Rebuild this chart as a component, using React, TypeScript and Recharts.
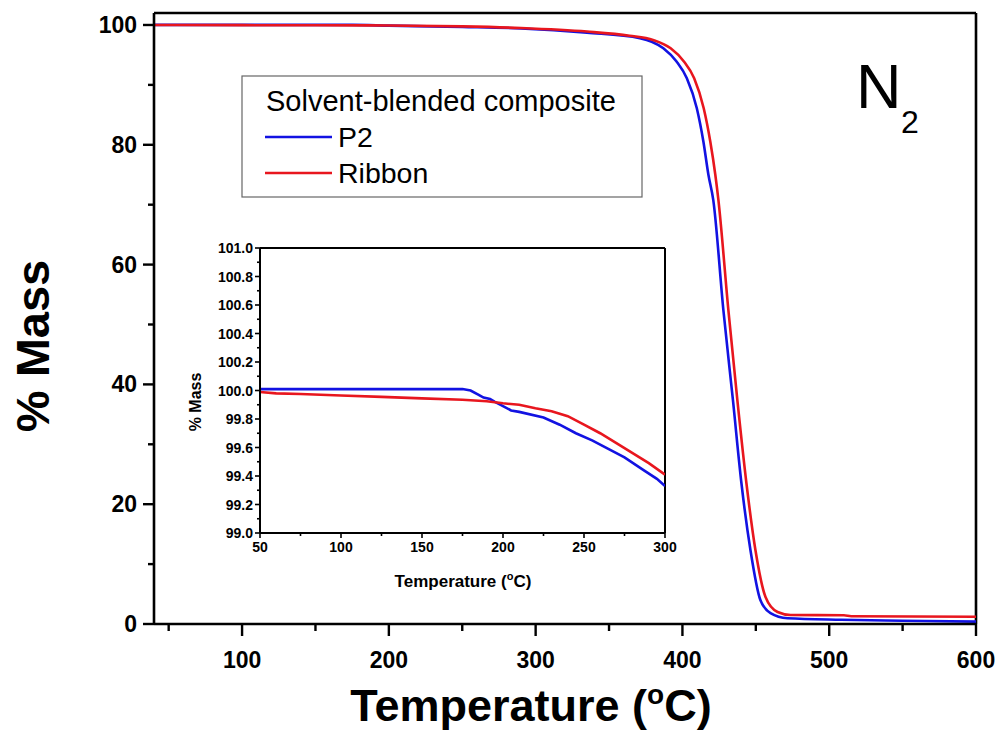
import { LineChart, Line, XAxis, YAxis, ReferenceLine } from "recharts";

const FONT = '"Liberation Sans", Arial, sans-serif';
const BLUE = "#1212e2";
const RED = "#e8161e";

// main TGA curves (temperature in °C, % mass)
const p2Temp = [40, 100, 150, 175, 200, 250, 290, 335, 371, 387, 396, 403, 409.8, 414.3, 417.7, 421, 427.9, 434.4, 440.2, 446.3, 453.1, 460, 471.6, 508, 550, 600];
const p2Mass = [100.01, 100.01, 100.01, 100.01, 99.89, 99.67, 99.42, 98.7, 97.8, 96.1, 93.9, 91.1, 86.1, 80.5, 75, 70.8, 52.4, 37.4, 23.5, 12.4, 4.0, 1.8, 0.95, 0.7, 0.55, 0.4];

const ribbonTemp = [40, 100, 150, 200, 250, 290, 335, 364, 380, 392, 401, 408, 414.5, 419, 422.4, 424.5, 431.3, 437.4, 443.6, 449.7, 456.6, 464.8, 473.7, 510, 515, 600];
const ribbonMass = [100, 99.97, 99.95, 99.91, 99.76, 99.49, 98.9, 98.2, 97.5, 96.1, 93.9, 91.1, 86.1, 80.5, 75, 70.8, 52.4, 37.4, 23.5, 12.4, 4.5, 2.0, 1.5, 1.45, 1.3, 1.2];

// inset (zoom of 50-300 °C)
const insetP2Temp = [50, 75, 100, 125, 150, 175, 180, 185, 188, 192, 195, 200, 205, 210, 225, 235, 245, 255, 265, 275, 287, 295, 300];
const insetP2Mass = [100.01, 100.01, 100.01, 100.01, 100.01, 100.01, 100.0, 99.97, 99.95, 99.94, 99.92, 99.89, 99.86, 99.85, 99.81, 99.76, 99.7, 99.65, 99.59, 99.53, 99.44, 99.38, 99.33];

const insetRibbonTemp = [50, 60, 75, 100, 125, 150, 175, 190, 200, 210, 220, 230, 240, 250, 260, 270, 280, 290, 300];
const insetRibbonMass = [99.99, 99.98, 99.975, 99.965, 99.955, 99.945, 99.935, 99.925, 99.91, 99.9, 99.875, 99.855, 99.82, 99.76, 99.7, 99.63, 99.56, 99.49, 99.41];

const mainXTicks = [50, 100, 150, 200, 250, 300, 350, 400, 450, 500, 550, 600];
const mainYTicks = [0, 10, 20, 30, 40, 50, 60, 70, 80, 90, 100];
const insetXTicks = [50, 75, 100, 125, 150, 175, 200, 225, 250, 275, 300];
const insetYTicks = [99.0, 99.1, 99.2, 99.3, 99.4, 99.5, 99.6, 99.7, 99.8, 99.9, 100.0, 100.1, 100.2, 100.3, 100.4, 100.5, 100.6, 100.7, 100.8, 100.9, 101.0];

const zip = (t: number[], m: number[]) => t.map((v, i) => ({ t: v, m: m[i] }));

const p2Data = zip(p2Temp, p2Mass);
const ribbonData = zip(ribbonTemp, ribbonMass);
const insetP2Data = zip(insetP2Temp, insetP2Mass);
const insetRibbonData = zip(insetRibbonTemp, insetRibbonMass);

type TickOpts = {
  isMajor: (v: number) => boolean;
  major: number;
  minor: number;
  offset: number;
  baseline: number;
  fontSize: number;
  strokeWidth: number;
  fmt: (v: number) => string;
};

const bottomTick = (o: TickOpts) => (p: any) => {
  const v = p.payload.value;
  const major = o.isMajor(v);
  return (
    <g>
      <line x1={p.x} y1={p.y} x2={p.x} y2={p.y + (major ? o.major : o.minor)} stroke="#000" strokeWidth={o.strokeWidth} />
      {major && (
        <text x={p.x} y={p.y + o.offset} textAnchor="middle" fontSize={o.fontSize} fontWeight="bold" fontFamily={FONT} fill="#000">
          {o.fmt(v)}
        </text>
      )}
    </g>
  );
};

const leftTick = (o: TickOpts) => (p: any) => {
  const v = p.payload.value;
  const major = o.isMajor(v);
  return (
    <g>
      <line x1={p.x} y1={p.y} x2={p.x - (major ? o.major : o.minor)} y2={p.y} stroke="#000" strokeWidth={o.strokeWidth} />
      {major && (
        <text x={p.x - o.offset} y={p.y + o.baseline} textAnchor="end" fontSize={o.fontSize} fontWeight="bold" fontFamily={FONT} fill="#000">
          {o.fmt(v)}
        </text>
      )}
    </g>
  );
};

function MainChart() {
  return (
    <LineChart width={1003} height={734} margin={{ top: 13, right: 27, bottom: 0, left: 0 }}>
      <XAxis
        dataKey="t"
        type="number"
        domain={[40, 600]}
        allowDataOverflow
        ticks={mainXTicks}
        interval={0}
        height={110}
        tickSize={0}
        tickMargin={0}
        tickLine={false}
        axisLine={{ stroke: "#000", strokeWidth: 2.6 }}
        tick={bottomTick({ isMajor: (v) => v % 100 === 0, major: 12, minor: 7, offset: 44, baseline: 0, fontSize: 23, strokeWidth: 2.4, fmt: String })}
      />
      <YAxis
        type="number"
        domain={[0, 102]}
        allowDataOverflow
        ticks={mainYTicks}
        interval={0}
        width={154}
        tickSize={0}
        tickMargin={0}
        tickLine={false}
        axisLine={{ stroke: "#000", strokeWidth: 2.6 }}
        tick={leftTick({ isMajor: (v) => v % 20 === 0, major: 11, minor: 6, offset: 17, baseline: 8, fontSize: 23, strokeWidth: 2.4, fmt: String })}
      />
      <ReferenceLine y={102} stroke="#000" strokeWidth={2.6} />
      <ReferenceLine x={600} stroke="#000" strokeWidth={2.6} />
      <Line data={p2Data} dataKey="m" type="monotone" stroke={BLUE} strokeWidth={2.6} dot={false} isAnimationActive={false} />
      <Line data={ribbonData} dataKey="m" type="monotone" stroke={RED} strokeWidth={2.6} dot={false} isAnimationActive={false} />
    </LineChart>
  );
}

function InsetChart() {
  return (
    <LineChart width={500} height={365} margin={{ top: 13, right: 20, bottom: 0, left: 0 }}>
      <XAxis
        dataKey="t"
        type="number"
        domain={[50, 300]}
        allowDataOverflow
        ticks={insetXTicks}
        interval={0}
        height={67}
        tickSize={0}
        tickMargin={0}
        tickLine={false}
        axisLine={{ stroke: "#000", strokeWidth: 2 }}
        tick={bottomTick({ isMajor: (v) => v % 50 === 0, major: 5, minor: 3, offset: 19, baseline: 0, fontSize: 14, strokeWidth: 1.6, fmt: String })}
      />
      <YAxis
        type="number"
        domain={[99, 101]}
        allowDataOverflow
        ticks={insetYTicks}
        interval={0}
        width={75}
        tickSize={0}
        tickMargin={0}
        tickLine={false}
        axisLine={{ stroke: "#000", strokeWidth: 2 }}
        tick={leftTick({ isMajor: (v) => Math.round(v * 10) % 2 === 0, major: 5, minor: 3, offset: 7, baseline: 5, fontSize: 14, strokeWidth: 1.6, fmt: (v) => v.toFixed(1) })}
      />
      <ReferenceLine y={101} stroke="#000" strokeWidth={2} />
      <ReferenceLine x={300} stroke="#000" strokeWidth={2} />
      <Line data={insetP2Data} dataKey="m" type="linear" stroke={BLUE} strokeWidth={2.6} dot={false} isAnimationActive={false} />
      <Line data={insetRibbonData} dataKey="m" type="linear" stroke={RED} strokeWidth={2.6} dot={false} isAnimationActive={false} />
    </LineChart>
  );
}

function Annotations() {
  return (
    <svg width={1003} height={734} style={{ position: "absolute", left: 0, top: 0, pointerEvents: "none" }} fontFamily={FONT}>
      {/* main axis titles */}
      <text transform="translate(32,346) rotate(-90)" y={17} textAnchor="middle" fontSize={47} fontWeight="bold">
        % Mass
      </text>
      <text x={531} y={721} textAnchor="middle" fontSize={45} fontWeight="bold">
        Temperature (<tspan fontSize={28} dy={-17}>o</tspan>
        <tspan dy={17}>C)</tspan>
      </text>

      {/* inset axis titles */}
      <text transform="translate(195,402) rotate(-90)" y={6} textAnchor="middle" fontSize={16} fontWeight="bold">
        % Mass
      </text>
      <text x={463} y={587} textAnchor="middle" fontSize={17} fontWeight="bold">
        Temperature (<tspan fontSize={11} dy={-7}>o</tspan>
        <tspan dy={7}>C)</tspan>
      </text>

      {/* N2 */}
      <text x={856} y={108} fontSize={63}>N</text>
      <text x={901} y={133} fontSize={32}>2</text>

      {/* legend */}
      <rect x={242} y={76} width={400} height={121} fill="#fff" stroke="#666" strokeWidth={1.2} />
      <text x={266} y={111} fontSize={29}>Solvent-blended composite</text>
      <line x1={265} x2={332} y1={137} y2={137} stroke={BLUE} strokeWidth={2.6} />
      <text x={338} y={147} fontSize={28.5}>P2</text>
      <line x1={265} x2={332} y1={173} y2={173} stroke={RED} strokeWidth={2.6} />
      <text x={338} y={183} fontSize={28.5}>Ribbon</text>
    </svg>
  );
}

export default function App() {
  return (
    <div style={{ position: "absolute", left: 0, top: 0, width: 1003, height: 734, background: "#fff", fontFamily: FONT }}>
      <MainChart />
      <div style={{ position: "absolute", left: 185, top: 235, width: 500, height: 365 }}>
        <InsetChart />
      </div>
      <Annotations />
    </div>
  );
}
